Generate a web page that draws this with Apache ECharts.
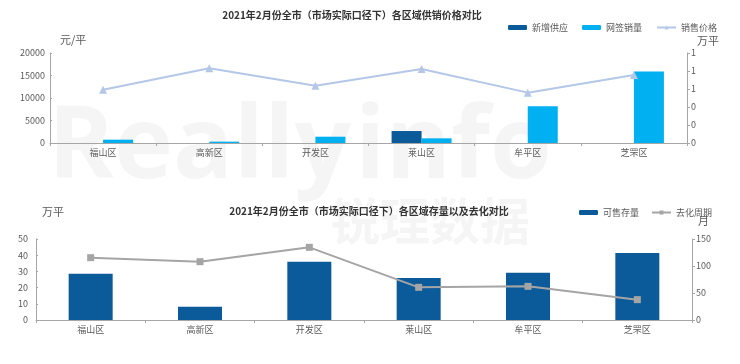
<!DOCTYPE html>
<html>
<head>
<meta charset="utf-8">
<script src="https://cdn.jsdelivr.net/npm/echarts@6/dist/echarts.min.js"></script>
<style>html,body{margin:0;padding:0;background:#fff}#c{width:740px;height:364px}</style>
</head>
<body>
<div id="c"></div>
<script>
var categories = ['福山区', '高新区', '开发区', '莱山区', '牟平区', '芝罘区'];
// top chart
var newSupply = [0, 0, 0, 0.133, 0, 0];          // 万平
var netSales = [0.037, 0.015, 0.07, 0.052, 0.407, 0.795]; // 万平
var salePrice = [11850, 16590, 12740, 16440, 11190, 15110]; // 元/平
// bottom chart
var stock = [28.6, 8.2, 36.0, 25.9, 29.2, 41.4];   // 万平
var cycle = [115.4, 108, 134.6, 60.5, 62.3, 37.7];  // 月

var FONT = '"Noto Sans CJK SC", "Noto Sans", sans-serif';
var LBL = '#595959';
var AXIS = '#a6a6a6';
var WM = 'rgba(0,0,0,0.04)';
var chart = echarts.init(document.getElementById('c'));
chart.setOption({
  backgroundColor: '#fff',
  textStyle: { fontFamily: FONT },
  graphic: [
    { type: 'text', left: 48, top: 100, z: -10, silent: true,
      style: { text: 'Really', font: 'bold 100px "Open Sans", sans-serif', fill: WM } },
    { type: 'text', left: 355, top: 100, z: -10, silent: true,
      style: { text: 'info', font: 'bold 100px "Open Sans", sans-serif', fill: WM } },
    { type: 'text', left: 330, top: 196, z: -10, silent: true,
      style: { text: '锐理数据', font: 'bold 50px "Noto Sans CJK SC"', fill: WM } }
  ],
  title: [
    { text: '2021年2月份全市（市场实际口径下）各区域供销价格对比', left: 347, textAlign: 'center', top: 5,
      textStyle: { fontSize: 10, fontWeight: 'bold', color: '#333', fontFamily: FONT } },
    { text: '2021年2月份全市（市场实际口径下）各区域存量以及去化对比', left: 364, textAlign: 'center', top: 201,
      textStyle: { fontSize: 10, fontWeight: 'bold', color: '#333', fontFamily: FONT } }
  ],
  legend: [
    { data: ['新增供应', '网签销量', '销售价格'], left: 503, top: 18, itemWidth: 19, itemHeight: 5, itemGap: 14,
      textStyle: { fontSize: 9, color: LBL, fontFamily: FONT } },
    { data: ['可售存量', '去化周期'], left: 574, top: 203, itemWidth: 19, itemHeight: 5, itemGap: 12,
      textStyle: { fontSize: 9, color: LBL, fontFamily: FONT } }
  ],
  grid: [
    { left: 50, right: 53, top: 53, height: 90 },
    { left: 36, right: 48, top: 239, height: 81 }
  ],
  xAxis: [
    { type: 'category', gridIndex: 0, data: categories,
      axisLine: { lineStyle: { color: AXIS } }, axisTick: { show: true, length: 3, lineStyle: { color: AXIS } },
      axisLabel: { fontSize: 9, color: LBL, margin: 5 } },
    { type: 'category', gridIndex: 1, data: categories,
      axisLine: { lineStyle: { color: AXIS } }, axisTick: { show: true, length: 3, lineStyle: { color: AXIS } },
      axisLabel: { fontSize: 9, color: LBL, margin: 5 } }
  ],
  yAxis: [
    { type: 'value', gridIndex: 0, min: 0, max: 20000, interval: 5000, name: '元/平', nameGap: 8,
      nameTextStyle: { fontSize: 11, color: LBL, align: 'left', padding: [0, 0, 0, 10] },
      axisLine: { show: true, lineStyle: { color: AXIS } }, axisTick: { show: true, inside: true, length: 2, lineStyle: { color: AXIS } },
      splitLine: { show: false }, axisLabel: { fontSize: 9, color: LBL, margin: 5, formatter: function (v) { return String(v); } } },
    { type: 'value', gridIndex: 0, min: 0, max: 1, interval: 0.2, name: '万平', nameGap: 7, position: 'right',
      nameTextStyle: { fontSize: 11, color: LBL, align: 'left', padding: [0, 0, 0, 10] },
      axisLine: { show: true, lineStyle: { color: AXIS } }, axisTick: { show: true, length: 3, lineStyle: { color: AXIS } },
      splitLine: { show: false }, axisLabel: { fontSize: 9, color: LBL, margin: 4, formatter: function (v) { return String(Math.round(v)); } } },
    { type: 'value', gridIndex: 1, min: 0, max: 50, interval: 10, name: '万平', nameGap: 22,
      nameTextStyle: { fontSize: 11, color: LBL, align: 'left', padding: [0, 0, 0, 6] },
      axisLine: { show: true, lineStyle: { color: AXIS } }, axisTick: { show: true, inside: true, length: 2, lineStyle: { color: AXIS } },
      splitLine: { show: false }, axisLabel: { fontSize: 9, color: LBL, margin: 8 } },
    { type: 'value', gridIndex: 1, min: 0, max: 150, interval: 50, name: '月', nameGap: 13, position: 'right',
      nameTextStyle: { fontSize: 11, color: LBL, align: 'left', padding: [0, 0, 0, 6] },
      axisLine: { show: true, lineStyle: { color: AXIS } }, axisTick: { show: true, length: 3, lineStyle: { color: AXIS } },
      splitLine: { show: false }, axisLabel: { fontSize: 9, color: LBL, margin: 4 } }
  ],
  series: [
    { name: '新增供应', type: 'bar', xAxisIndex: 0, yAxisIndex: 1, data: newSupply, barWidth: 30, barGap: '0%',
      itemStyle: { color: '#0b5a9a' } },
    { name: '网签销量', type: 'bar', xAxisIndex: 0, yAxisIndex: 1, data: netSales, barWidth: 30,
      itemStyle: { color: '#00b0f0' } },
    { name: '销售价格', type: 'line', xAxisIndex: 0, yAxisIndex: 0, data: salePrice, symbol: 'triangle', symbolSize: 8,
      lineStyle: { color: '#b4c7e7', width: 2 }, itemStyle: { color: '#b4c7e7' } },
    { name: '可售存量', type: 'bar', xAxisIndex: 1, yAxisIndex: 2, data: stock, barWidth: 44,
      itemStyle: { color: '#0b5a9a' } },
    { name: '去化周期', type: 'line', xAxisIndex: 1, yAxisIndex: 3, data: cycle, symbol: 'rect', symbolSize: 7,
      lineStyle: { color: '#a5a5a5', width: 2 }, itemStyle: { color: '#a5a5a5' } }
  ]
});
</script>
</body>
</html>
